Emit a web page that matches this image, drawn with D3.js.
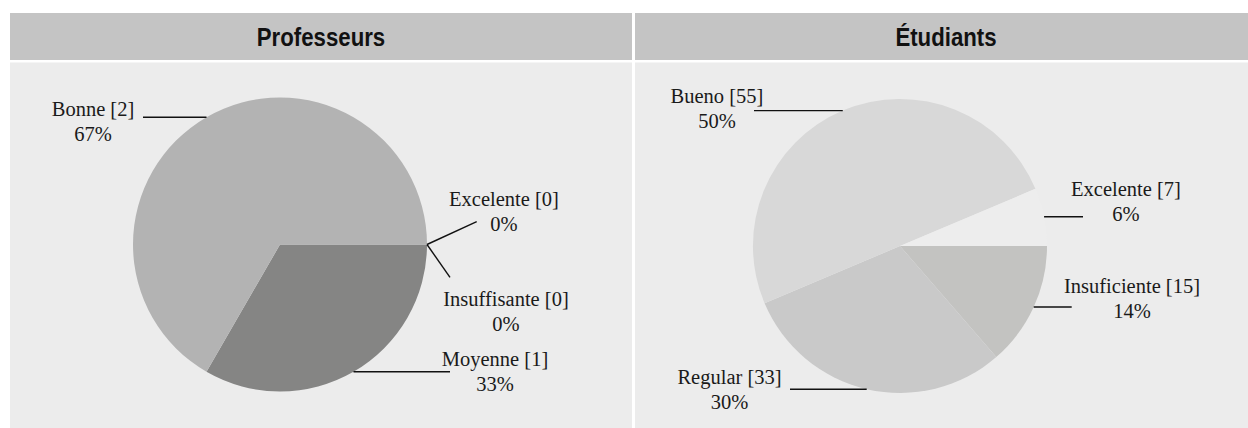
<!DOCTYPE html>
<html>
<head>
<meta charset="utf-8">
<script src="https://cdn.jsdelivr.net/npm/d3@7"></script>
<style>
  body { margin: 0; background: #ffffff; }
  svg { display: block; }
</style>
</head>
<body>
<div id="container"></div>
<script>
// data (clockwise from 3 o'clock)
let panelTitles = ["Professeurs", "Étudiants"];
let profCategories = ["Insuffisante", "Moyenne", "Bonne", "Excelente"];
let profValues = [0, 1, 2, 0];
let etuCategories = ["Insuficiente", "Regular", "Bueno", "Excelente"];
let etuValues = [15, 33, 55, 7];

// styles
let profColors = ["#8a8a88", "#858584", "#b3b3b3", "#c0c0c0"];
let etuColors = ["#c3c3c1", "#c9c9c9", "#d8d8d8", "#ededed"];

// label placement relative to the pie centre: text (lx, ly = first baseline), leader end (ex, ey; null = horizontal)
let profLabelPos = [
  {lx: 226, ly: 61.5, ex: 170, ey: 32.8},
  {lx: 215, ly: 121.5, ex: 170, ey: null},
  {lx: -187, ly: -128.5, ex: -137, ey: null},
  {lx: 224, ly: -38.5, ex: 196.7, ey: -22.8}
];
let etuLabelPos = [
  {lx: 232, ly: 46.7, ex: 171.7, ey: null},
  {lx: -170.5, ly: 138, ex: -110, ey: null},
  {lx: -183, ly: -143.3, ex: -146, ey: null},
  {lx: 226, ly: -50, ex: 183, ey: null}
];

let w = 1248;
let h = 428;
let radius = 147;
let panelW = 622;
let headerY = 13;
let headerH = 47;
let bodyY = 62.5;

let panels = [
  {title: panelTitles[0], cats: profCategories, vals: profValues, colors: profColors, labels: profLabelPos, x: 10, pieX: 270, pieY: 244.5},
  {title: panelTitles[1], cats: etuCategories, vals: etuValues, colors: etuColors, labels: etuLabelPos, x: 635, pieX: 265, pieY: 246}
];

let viz = d3.select("#container")
  .append("svg")
  .attr("width", w)
  .attr("height", h)
  .style("background-color", "#ffffff")
;

let pie = d3.pie()
  .sort(null)
  .startAngle(Math.PI / 2)
  .endAngle(Math.PI / 2 + Math.PI * 2)
  .value(d => d.value);

let arc = d3.arc().innerRadius(0).outerRadius(radius);

panels.forEach(function(p){
  let g = viz.append("g").attr("class", "panel");

  // header + body boxes
  g.append("rect")
    .attr("x", p.x).attr("y", headerY)
    .attr("width", panelW).attr("height", headerH)
    .attr("fill", "#c4c4c4");
  g.append("rect")
    .attr("x", p.x).attr("y", bodyY)
    .attr("width", panelW).attr("height", h - bodyY)
    .attr("fill", "#ececec");
  // condensed bold title (squeezed horizontally)
  g.append("text")
    .text(p.title)
    .attr("transform", "translate(" + (p.x + panelW / 2) + "," + (headerY + headerH / 2) + ") scale(0.855,1)")
    .attr("dy", "0.36em")
    .attr("text-anchor", "middle")
    .attr("font-family", "'Liberation Sans', Arial, sans-serif")
    .attr("font-weight", "bold")
    .attr("font-size", "26px")
    .attr("fill", "#111111");

  let total = d3.sum(p.vals);
  let data = p.cats.map((c, i) => ({cat: c, value: p.vals[i], color: p.colors[i], pos: p.labels[i]}));
  let arcs = pie(data);

  let pieG = g.append("g")
    .attr("transform", "translate(" + (p.x + p.pieX) + "," + p.pieY + ")");

  pieG.selectAll(".slice").data(arcs).enter()
    .append("path")
    .attr("class", "slice")
    .attr("d", arc)
    .attr("fill", d => d.data.color);

  // leader lines, from the arc edge at the slice's mid angle
  pieG.selectAll(".leader").data(arcs).enter()
    .append("line")
    .attr("class", "leader")
    .attr("x1", d => radius * Math.sin((d.startAngle + d.endAngle) / 2))
    .attr("y1", d => -radius * Math.cos((d.startAngle + d.endAngle) / 2))
    .attr("x2", d => d.data.pos.ex)
    .attr("y2", function(d){
      if (d.data.pos.ey == null) {
        return -radius * Math.cos((d.startAngle + d.endAngle) / 2);
      }
      return d.data.pos.ey;
    })
    .attr("stroke", "#111111")
    .attr("stroke-width", 1.4);

  let labels = pieG.selectAll(".lbl").data(arcs).enter()
    .append("text")
    .attr("class", "lbl")
    .attr("text-anchor", "middle")
    .attr("font-family", "'Liberation Serif', 'DejaVu Serif', serif")
    .attr("font-size", "20.5px")
    .attr("fill", "#1a1a1a");
  labels.append("tspan")
    .attr("x", d => d.data.pos.lx)
    .attr("y", d => d.data.pos.ly)
    .text(d => d.data.cat + " [" + d.data.value + "]");
  labels.append("tspan")
    .attr("x", d => d.data.pos.lx)
    .attr("y", d => d.data.pos.ly + 25)
    .text(d => Math.round(d.data.value / total * 100) + "%");
});
</script>
</body>
</html>
